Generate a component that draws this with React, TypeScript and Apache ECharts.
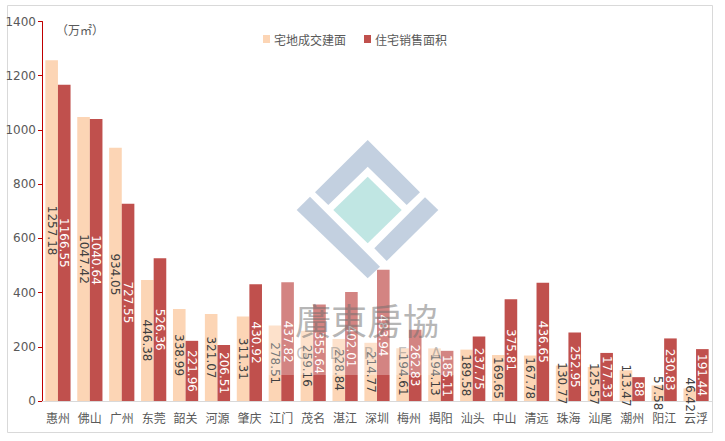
import React, { useEffect, useRef } from "react";
import * as echarts from "echarts";

const categories = ["惠州", "佛山", "广州", "东莞", "韶关", "河源", "肇庆", "江门", "茂名", "湛江", "深圳", "梅州", "揭阳", "汕头", "中山", "清远", "珠海", "汕尾", "潮州", "阳江", "云浮"];
const landArea = [1257.18, 1047.42, 934.05, 446.38, 338.99, 321.07, 311.31, 278.51, 259.16, 228.84, 214.77, 194.61, 194.13, 189.58, 169.65, 167.78, 130.77, 125.57, 113.47, 57.58, 46.42];
const salesArea = [1166.55, 1040.64, 727.55, 526.36, 221.96, 206.51, 430.92, 437.82, 355.64, 402.01, 483.94, 262.83, 185.11, 237.75, 375.81, 436.65, 252.95, 177.33, 88, 230.83, 191.44];
const seriesNames = ["宅地成交建面", "住宅销售面积"];
const unitText = "（万㎡）";
const watermarkText = "廣東房協";
const watermarkLetters = ["G", "D", "R", "E", "A"];

const CJK = "'Noto Sans CJK SC', 'Microsoft YaHei', sans-serif";
const NUM = "'DejaVu Sans', sans-serif";

export default function App() {
  const ref = useRef<HTMLDivElement>(null);
  useEffect(() => {
    if (!ref.current) return;
    const chart = echarts.init(ref.current, null, { renderer: "svg" });
    const logoBlue = "#c3d0e0";
    const logoCyan = "#c0e6e3";
    chart.setOption({
      animation: false,
      backgroundColor: "#ffffff",
      grid: { left: 42, right: 13, top: 21.5, bottom: 40 },
      legend: {
        data: seriesNames,
        left: 258,
        top: 28,
        itemWidth: 7,
        itemHeight: 8,
        itemGap: 18,
        icon: "rect",
        textStyle: { fontFamily: CJK, fontSize: 12, color: "#595959", padding: [0, 0, 0, -1] },
      },
      xAxis: {
        type: "category",
        data: categories,
        axisLine: { lineStyle: { color: "#d9d9d9", width: 1 } },
        axisTick: { show: false },
        axisLabel: { fontFamily: CJK, fontSize: 12, color: "#595959", margin: 10, interval: 0 },
      },
      yAxis: {
        type: "value",
        min: 0,
        max: 1400,
        interval: 200,
        axisLine: { show: true, lineStyle: { color: "#c00000", width: 1 } },
        axisTick: { show: true, length: 4, lineStyle: { color: "#c00000" } },
        splitLine: { show: false },
        axisLabel: {
          fontFamily: NUM,
          fontSize: 12,
          color: "#595959",
          margin: 6,
          formatter: (v: number) => String(v),
        },
      },
      series: [
        {
          name: seriesNames[0],
          type: "bar",
          data: landArea,
          barGap: "0%",
          barCategoryGap: "21%",
          itemStyle: { color: "#fcd5b5" },
          label: {
            show: true,
            position: "inside",
            rotate: -90,
            fontFamily: NUM,
            fontSize: 12,
            color: "#404040",
          },
        },
        {
          name: seriesNames[1],
          type: "bar",
          data: salesArea,
          barGap: "0%",
          barCategoryGap: "21%",
          itemStyle: { color: "#c0504d" },
          label: {
            show: true,
            position: "inside",
            rotate: -90,
            fontFamily: NUM,
            fontSize: 12,
            color: "#ffffff",
          },
        },
      ],
      graphic: [
        {
          type: "rect",
          shape: { x: 7.5, y: 5.5, width: 705, height: 427 },
          style: { fill: "none", stroke: "#d9d9d9", lineWidth: 1 },
          z: 0,
          silent: true,
        },
        {
          type: "text",
          x: 56,
          y: 29,
          style: { text: unitText, font: `12px ${CJK}`, fill: "#595959", textVerticalAlign: "middle" },
          z: 10,
        },
        {
          type: "rect",
          shape: { x: 266, y: 125, width: 195, height: 250 },
          style: { fill: "rgba(255,255,255,0.3)" },
          z: 100,
          silent: true,
        },
        {
          type: "polygon",
          shape: { points: [[315, 192.3], [367.7, 140], [420, 192.3], [406.7, 205], [367.7, 166.7], [328.3, 205]] },
          style: { fill: logoBlue },
          z: 101,
          silent: true,
        },
        {
          type: "polygon",
          shape: { points: [[296.7, 210], [310, 196.7], [380, 266.7], [367.7, 278.3]] },
          style: { fill: logoBlue },
          z: 101,
          silent: true,
        },
        {
          type: "polygon",
          shape: { points: [[425, 197.3], [438.3, 210], [386.7, 261], [374.3, 248.3]] },
          style: { fill: logoBlue },
          z: 101,
          silent: true,
        },
        {
          type: "polygon",
          shape: { points: [[367.7, 176.7], [401.7, 210], [367.7, 243.3], [333.3, 210]] },
          style: { fill: logoCyan },
          z: 101,
          silent: true,
        },
        {
          type: "text",
          x: 367,
          y: 319,
          style: {
            text: watermarkText,
            font: `36px 'Noto Sans CJK TC', sans-serif`,
            fill: "rgba(110,110,110,0.5)",
            textAlign: "center",
            textVerticalAlign: "middle",
          },
          z: 102,
          silent: true,
        },
        ...watermarkLetters.map((ch, i) => ({
          type: "text",
          x: 302 + i * 33.5,
          y: 354,
          style: {
            text: ch,
            font: `15px 'DejaVu Sans', sans-serif`,
            fill: "rgba(120,120,120,0.45)",
            textAlign: "center",
            textVerticalAlign: "middle",
          },
          z: 102,
          silent: true,
        })),
      ],
    });
    return () => chart.dispose();
  }, []);
  return <div ref={ref} style={{ position: "fixed", left: 0, top: 0, width: 725, height: 441 }} />;
}
